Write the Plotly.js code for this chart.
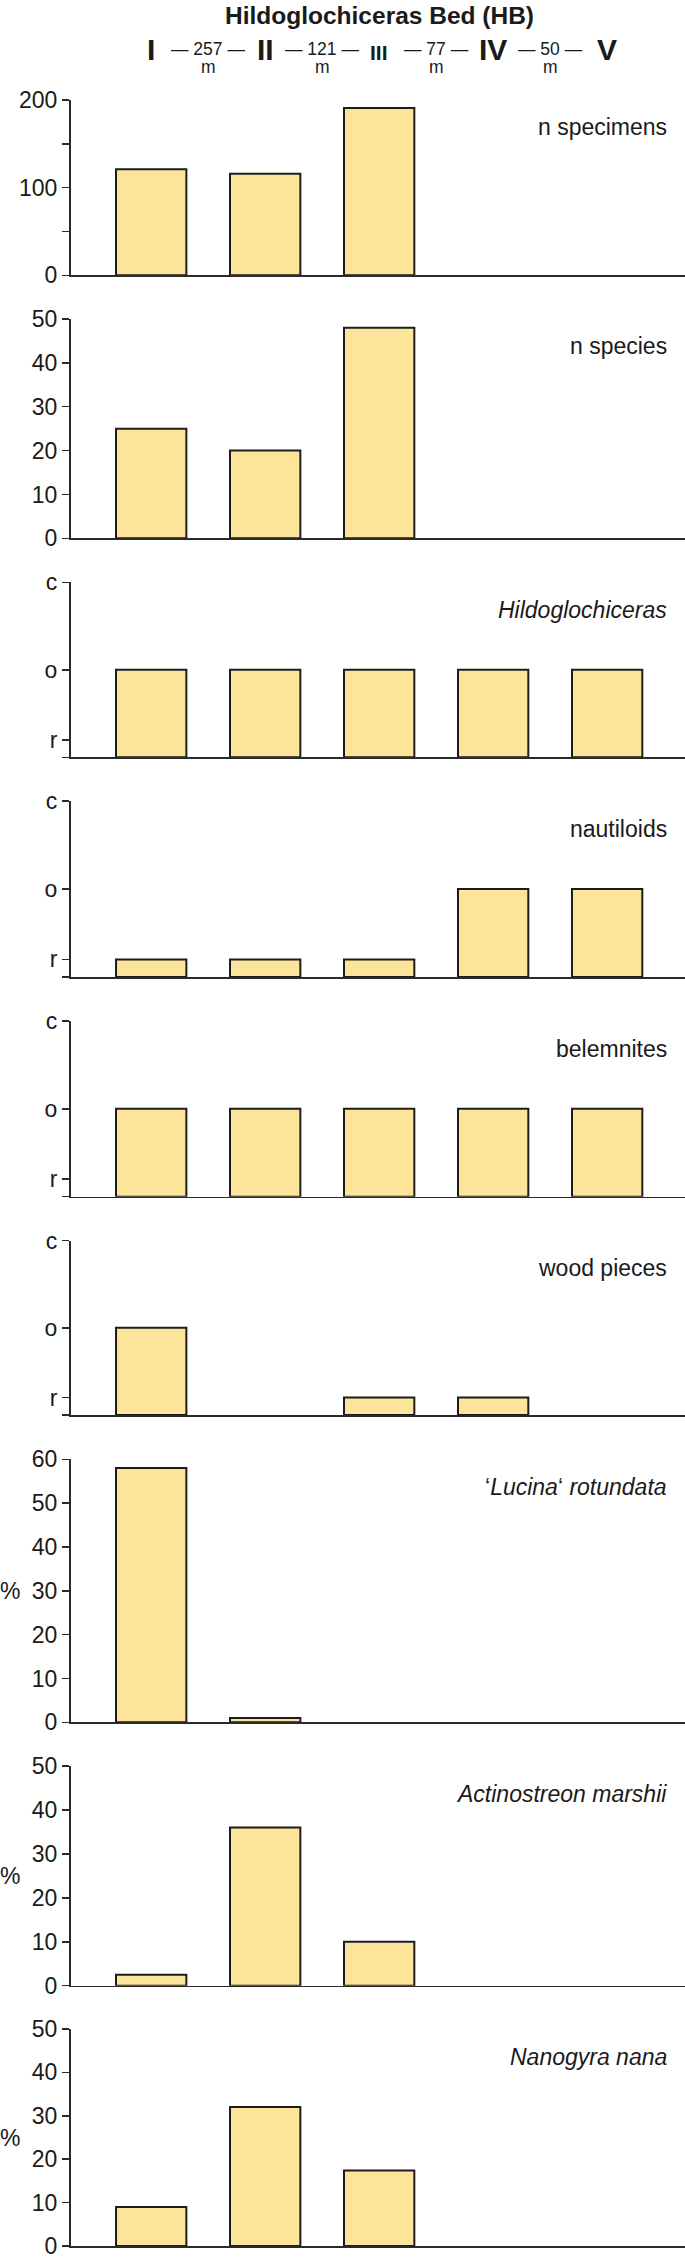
<!DOCTYPE html>
<html><head><meta charset="utf-8">
<script src="https://cdn.plot.ly/plotly-3.0.1.min.js"></script>
<style>html,body{margin:0;padding:0;background:#fff;} #chart{width:685px;height:2258px;}</style>
</head><body><div id="chart"></div>
<script>
// ---- data ----
const sites = ['I', 'II', 'III', 'IV', 'V'];
const distances = ['257', '121', '77', '50'];
const nSpecimens = [121, 116, 191, null, null];
const nSpecies = [25, 20, 48, null, null];
const abundanceLabels = ['r', 'o', 'c'];
const abundanceValues = [1, 5, 10];
const hildoglochiceras = ['o', 'o', 'o', 'o', 'o'];
const nautiloids = ['r', 'r', 'r', 'o', 'o'];
const belemnites = ['o', 'o', 'o', 'o', 'o'];
const woodPieces = ['o', null, 'r', 'r', null];
const lucinaRotundata = [58, 1, null, null, null];
const actinostreonMarshii = [2.5, 36, 10, null, null];
const nanogyraNana = [9, 32, 17.4, null, null];
const titleText = 'Hildoglochiceras Bed (HB)';

// ---- helpers ----
const toLevel = v => (v == null ? null : abundanceValues[abundanceLabels.indexOf(v)]);
const W = 685, H = 2258, L = 71;
const FONT = 'Liberation Sans, Arial, Helvetica, sans-serif';
const INK = '#1a1a1a';

const abundTicks = {vals: [0].concat(abundanceValues), text: [''].concat(abundanceLabels)};
const panels = [
  {label: 'n specimens', y: nSpecimens, range: [0, 200], tv: [0, 50, 100, 150, 200], tt: ['0', '', '100', '', '200']},
  {label: 'n species', y: nSpecies, range: [0, 50], tv: [0, 10, 20, 30, 40, 50], tt: ['0', '10', '20', '30', '40', '50']},
  {label: '<i>Hildoglochiceras</i>', y: hildoglochiceras.map(toLevel), range: [0, 10], tv: abundTicks.vals, tt: abundTicks.text},
  {label: 'nautiloids', y: nautiloids.map(toLevel), range: [0, 10], tv: abundTicks.vals, tt: abundTicks.text},
  {label: 'belemnites', y: belemnites.map(toLevel), range: [0, 10], tv: abundTicks.vals, tt: abundTicks.text},
  {label: 'wood pieces', y: woodPieces.map(toLevel), range: [0, 10], tv: abundTicks.vals, tt: abundTicks.text},
  {label: '\u2018<i>Lucina</i>\u2018 <i>rotundata</i>', y: lucinaRotundata, range: [0, 60], tv: [0, 10, 20, 30, 40, 50, 60], tt: ['0', '10', '20', '30', '40', '50', '60'], pct: true},
  {label: '<i>Actinostreon marshii</i>', y: actinostreonMarshii, range: [0, 50], tv: [0, 10, 20, 30, 40, 50], tt: ['0', '10', '20', '30', '40', '50'], pct: true},
  {label: '<i>Nanogyra nana</i>', y: nanogyraNana, range: [0, 50], tv: [0, 10, 20, 30, 40, 50], tt: ['0', '10', '20', '30', '40', '50'], pct: true}
];
// panel pixel extents (top of axis, baseline)
const tops = [100, 319, 582.3, 801, 1021, 1240.7, 1459.3, 1766, 2029];
const bottoms = [275.3, 538.3, 757.3, 977, 1196.7, 1415, 1722.3, 1985.7, 2246];
const py = px => 1 - px / H;

const data = [];
const layout = {
  width: W, height: H,
  margin: {l: L, r: 0, t: 0, b: 0, pad: 0},
  paper_bgcolor: '#fff', plot_bgcolor: 'rgba(0,0,0,0)',
  showlegend: false, bargap: 0.383,
  font: {family: FONT, color: INK, size: 23},
  annotations: []
};

panels.forEach((p, i) => {
  const k = i === 0 ? '' : String(i + 1);
  data.push({
    type: 'bar', x: sites, y: p.y,
    xaxis: 'x' + k, yaxis: 'y' + k,
    marker: {color: 'rgb(253,228,155)', line: {color: '#1c1c1c', width: 2}},
    hoverinfo: 'skip'
  });
  layout['xaxis' + k] = {
    anchor: 'y' + k, domain: [0, 1], type: 'category',
    range: [-0.7035, 4.683], showticklabels: false, ticks: '',
    showline: true, linecolor: '#2a2a2a', linewidth: 1.6,
    showgrid: false, zeroline: false, fixedrange: true
  };
  layout['yaxis' + k] = {
    anchor: 'x' + k, domain: [py(bottoms[i]), py(tops[i])],
    range: p.range, tickmode: 'array', tickvals: p.tv, ticktext: p.tt,
    ticks: 'outside', ticklen: 7.5, tickwidth: 1.5, tickcolor: '#2a2a2a',
    showline: true, linecolor: '#2a2a2a', linewidth: 1.6,
    showgrid: false, zeroline: false, fixedrange: true,
    tickfont: {family: FONT, size: 23, color: INK},
    ticklabelstandoff: 0, ticklabeloverflow: 'allow'
  };
  if (p.pct) {
    layout.annotations.push({
      xref: 'paper', yref: 'y' + k + ' domain', x: (10 - L) / (W - L), y: 0.5,
      xanchor: 'center', yanchor: 'middle', showarrow: false,
      text: '%', font: {family: FONT, size: 23, color: INK}
    });
  }
  layout.annotations.push({
    xref: 'paper', yref: 'paper', x: (668.5 - L) / (W - L), y: py(tops[i] + 27.5),
    xanchor: 'right', yanchor: 'middle', showarrow: false,
    text: p.label, font: {family: FONT, size: 23, color: INK}
  });
});

// header
layout.annotations.push({
  xref: 'x', yref: 'paper', x: 2, y: 1, xanchor: 'center', yanchor: 'top',
  showarrow: false, text: '<b>' + titleText + '</b>', font: {family: FONT, size: 24.5, color: INK}
});
sites.forEach((s, i) => {
  const small = s === 'III';
  layout.annotations.push({
    xref: 'x', yref: 'paper', x: i, y: py(small ? 52.5 : 49.2), xanchor: 'center', yanchor: 'middle',
    showarrow: false, text: '<b>' + s + '</b>', font: {family: FONT, size: small ? 21 : 30, color: INK}
  });
});
distances.forEach((d, i) => {
  layout.annotations.push({
    xref: 'x', yref: 'paper', x: i + 0.5, y: py(49.4), xanchor: 'center', yanchor: 'middle',
    showarrow: false, text: '\u2014 ' + d + ' \u2014', font: {family: FONT, size: 17.5, color: INK}
  });
  layout.annotations.push({
    xref: 'x', yref: 'paper', x: i + 0.5, y: py(67), xanchor: 'center', yanchor: 'middle',
    showarrow: false, text: 'm', font: {family: FONT, size: 17.5, color: INK}
  });
});

Plotly.newPlot('chart', data, layout, {staticPlot: true, displayModeBar: false});
</script>
</body></html>
